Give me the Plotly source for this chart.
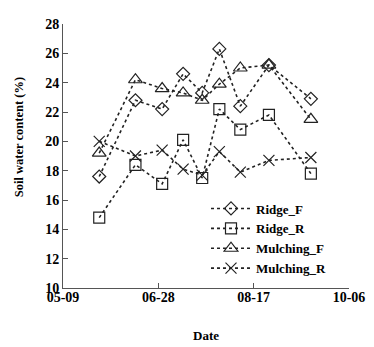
import plotly.graph_objects as go

dates = ["2013-05-28", "2013-06-16", "2013-06-30", "2013-07-11", "2013-07-21",
         "2013-07-30", "2013-08-10", "2013-08-25", "2013-09-16"]
ridge_f = [17.6, 22.8, 22.2, 24.6, 23.3, 26.3, 22.4, 25.2, 22.9]
ridge_r = [14.8, 18.4, 17.1, 20.1, 17.5, 22.2, 20.8, 21.8, 17.8]
mulching_f = [19.2, 24.2, 23.6, 23.3, 22.8, 23.9, 25.0, 25.2, 21.5]
mulching_r = [20.0, 19.0, 19.4, 18.1, 17.7, 19.3, 17.9, 18.7, 18.9]

tick_vals = ["2013-05-09", "2013-06-28", "2013-08-17", "2013-10-06"]
tick_text = ["05-09", "06-28", "08-17", "10-06"]

series = [
    ("Ridge_F", ridge_f, "diamond-open", 10),
    ("Ridge_R", ridge_r, "square-open", 11),
    ("Mulching_F", mulching_f, "triangle-up-open", 12),
    ("Mulching_R", mulching_r, "x-thin-open", 11),
]

fig = go.Figure()
for name, vals, sym, sz in series:
    fig.add_trace(go.Scatter(
        x=dates, y=vals, name=name, mode="lines+markers",
        line=dict(color="#222222", width=1.6, dash="dot"),
        marker=dict(symbol=sym, size=sz, color="#222222",
                    line=dict(color="#222222", width=1.2)),
    ))

fig.update_layout(
    width=366, height=339,
    margin=dict(l=55, r=22, t=9, b=59),
    paper_bgcolor="white", plot_bgcolor="white",
    showlegend=True,
    legend=dict(x=0.50, y=0.358, xanchor="left", yanchor="top",
                font=dict(family="Liberation Serif", size=13, color="black", weight="bold"),
                bgcolor="rgba(0,0,0,0)", itemwidth=40, tracegroupgap=0),
    font=dict(family="Liberation Serif", color="black"),
    annotations=[
        dict(text="<b>Soil water content (%)</b>", textangle=-90,
             xref="paper", yref="paper", x=-0.155, y=0.57,
             xanchor="center", yanchor="middle", showarrow=False,
             font=dict(family="Liberation Serif", size=12.5, color="black")),
        dict(text="<b>Date</b>", xref="paper", yref="paper", x=0.5, y=-0.18,
             xanchor="center", yanchor="middle", showarrow=False,
             font=dict(family="Liberation Serif", size=13, color="black")),
    ],
)
fig.update_xaxes(
    type="date", range=["2013-05-09", "2013-10-06"],
    tickvals=tick_vals, ticktext=tick_text,
    ticks="inside", ticklen=5, tickcolor="#555555",
    showline=True, linecolor="#555555", linewidth=1,
    showgrid=False, zeroline=False, ticklabelstandoff=-4,
    tickfont=dict(family="Liberation Serif", size=14, color="black", weight="bold"),
)
fig.update_yaxes(
    range=[10, 28], dtick=2,
    ticks="inside", ticklen=5, tickcolor="#555555",
    showline=True, linecolor="#555555", linewidth=1,
    showgrid=False, zeroline=False,
    tickfont=dict(family="Liberation Serif", size=14, color="black", weight="bold"),
)
fig.write_html("out.html")
